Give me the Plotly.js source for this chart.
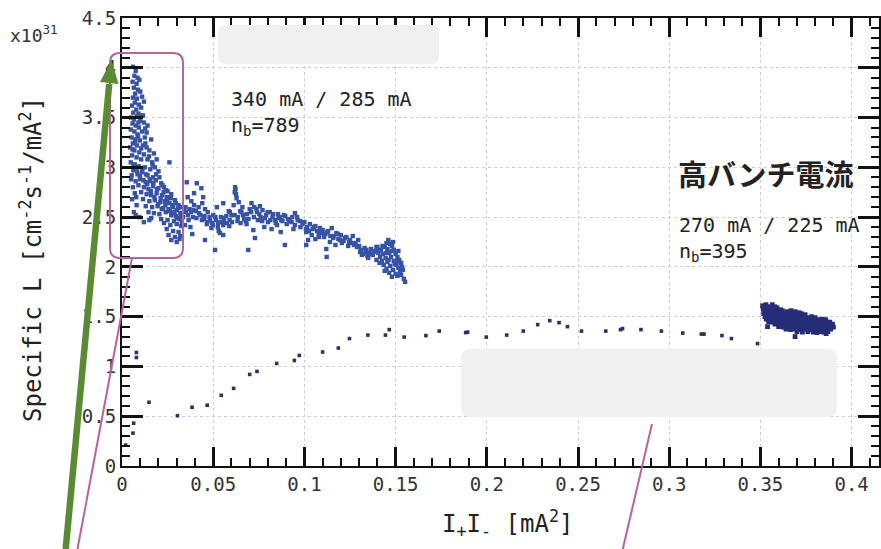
<!DOCTYPE html>
<html>
<head>
<meta charset="utf-8">
<script src="https://cdn.plot.ly/plotly-3.0.1.min.js"></script>
<style>html,body{margin:0;padding:0;background:#fff;}#chart{width:881px;height:549px;}</style>
</head>
<body>
<div id="chart"></div>
<script>
// ---------------- DATA ----------------
// High-current cluster (340 mA / 285 mA, nb=789)
const highX = [
 0.0060,0.0075,0.0068,0.0085,0.0058,0.0080,0.0095,0.0065,0.0088,0.0072,0.0100,0.0060,0.0082,0.0110,0.0070,0.0092,0.0055,0.0078,0.0105,0.0120,0.0062,0.0090,0.0115,
 0.0050,0.0065,0.0080,0.0100,0.0120,0.0058,0.0075,0.0092,0.0140,0.0135,0.0048,0.0068,0.0085,0.0110,0.0125,0.0052,0.0072,0.0098,0.0160,0.0060,0.0082,0.0115,0.0135,0.0150,0.0045,0.0068,0.0095,0.0120,0.0175,0.0055,0.0080,0.0105,0.0140,0.0165,0.0190,0.0048,0.0070,0.0092,0.0125,0.0155,0.0260,0.0180,0.0062,0.0110,0.0200,0.0085,0.0140,0.0170,
 0.0050,0.0075,0.0100,0.0130,0.0155,0.0185,0.0215,0.0060,0.0090,0.0120,0.0145,0.0170,0.0200,0.0230,0.0250,0.0070,0.0105,0.0135,0.0160,0.0190,0.0220,0.0245,0.0270,0.0055,0.0115,0.0150,0.0180,0.0210,0.0235,0.0260,0.0290,0.0310,0.0080,0.0130,0.0165,0.0195,0.0225,0.0255,0.0280,0.0300,0.0330,0.0065,0.0145,0.0175,0.0205,0.0240,0.0270,0.0295,0.0320,0.0340,0.0095,0.0160,0.0215,0.0250,0.0285,0.0315,0.0335,
 0.0230,0.0265,0.0300,0.0325,0.0245,0.0280,0.0310,0.0255,0.0290,0.0320,0.0270,0.0300,0.0315,0.0120,0.0150,0.0075,
 0.0355,0.0410,0.0435,0.0360,0.0380,0.0395,0.0370,0.0350,0.0405,0.0420,0.0440,0.0455,0.0470,0.0430,0.0390,0.0365,0.0450,0.0480,0.0500,0.0515,0.0495,0.0465,0.0525,0.0540,0.0555,0.0560,0.0575,0.0590,0.0530,0.0455,0.0510,0.0375,0.0345,0.0600,0.0585,0.0520,0.0395,0.0445,
 0.0620,0.0622,0.0618,0.0625,0.0628,0.0612,0.0640,0.0660,0.0655,0.0635,0.0670,0.0685,0.0700,0.0710,0.0725,0.0740,0.0756,0.0770,0.0760,0.0745,0.0790,0.0810,0.0825,0.0800,0.0840,0.0855,0.0866,0.0880,0.0895,0.0910,0.0930,0.0948,0.0960,0.0975,0.0990,0.0683,0.0720,0.0729,0.0692,0.0537,0.0490,0.0555,0.0591,0.0555,0.0780,0.0820,0.0893,0.0870,0.0940,0.1010,0.0650,0.0850,
 0.1000,0.1015,0.1030,0.1045,0.1060,0.1070,0.1085,0.1095,0.1010,0.1040,0.1080,0.1100,0.1115,0.1130,0.1150,0.1160,0.1175,0.1186,0.1200,0.1215,0.1230,0.1250,0.1265,0.1280,0.1295,0.1122,0.1120,0.1140,0.1060,0.1020,0.1170,0.1240,0.1205,
 0.1310,0.1320,0.1335,0.1345,0.1355,0.1365,0.1375,0.1385,0.1395,0.1330,0.1300,0.1350,
 0.1460,0.1450,0.1470,0.1440,0.1480,0.1420,0.1455,0.1490,0.1405,0.1430,0.1465,0.1500,0.1415,0.1445,0.1475,0.1510,0.1425,0.1455,0.1490,0.1520,0.1435,0.1470,0.1505,0.1530,0.1450,0.1485,0.1515,0.1535,0.1465,0.1500,0.1525,0.1540,0.1480,0.1510,0.1530,0.1552,0.1545,0.1400,0.1395,0.1485,0.1515,0.1440,
 0.0058,0.0072,0.0088,0.0105,0.0128,0.0148,0.0168,0.0187,0.0205,0.0222,0.0240,0.0258,0.0276,0.0295,0.0063,0.0083,0.0098,0.0118,0.0138,0.0158,0.0178,0.0198,0.0218,0.0238,0.0262,0.0282,0.0302,0.0322,0.0053,0.0078,0.0112,0.0132,0.0152,0.0172,0.0192,0.0212,0.0228,0.0248,0.0268,0.0288,0.0308,0.0328,0.0090,0.0107,0.0127,
 0.0348,0.0362,0.0378,0.0392,0.0408,0.0422,0.0438,0.0452,0.0468,0.0483,0.0498,0.0512,0.0527,0.0543,0.0558,0.0572,0.0588,0.0603,0.0618,0.0633,0.0648,0.0663,0.0678,0.0693,0.0708,0.0723,0.0738,0.0753,0.0768,0.0783,0.0798,0.0813,0.0828,0.0843,0.0858,0.0873,0.0888,0.0903,0.0918,0.0933,0.0948,0.0963,0.0978,0.0993,0.0385,
 0.1008,0.1025,0.1052,0.1078,0.1092,0.1108,0.1125,0.1142,0.1158,0.1182,0.1195,0.1222,0.1245,0.1258,0.1272,0.1288,0.1305,0.1315,0.1340,0.1360,0.1380,0.1402,0.1412,0.1428,0.1448,0.1462,0.1478,0.1495,0.1508,0.1525
];
const highY = [
 4.01,3.97,3.92,3.90,3.86,3.84,3.88,3.80,3.78,3.74,3.76,3.70,3.69,3.71,3.65,3.63,3.62,3.58,3.60,3.66,3.55,3.54,3.52,
 3.50,3.48,3.51,3.47,3.45,3.44,3.42,3.40,3.42,3.35,3.38,3.36,3.33,3.36,3.30,3.30,3.28,3.27,3.28,3.24,3.22,3.22,3.20,3.17,3.20,3.17,3.15,3.13,3.14,3.12,3.10,3.08,3.08,3.05,3.08,3.05,3.03,3.01,3.00,2.98,3.05,3.00,2.97,2.95,2.96,2.93,2.92,2.90,
 2.88,2.86,2.88,2.85,2.86,2.87,2.84,2.80,2.82,2.80,2.78,2.81,2.79,2.80,2.76,2.74,2.75,2.73,2.72,2.74,2.72,2.70,2.73,2.68,2.68,2.66,2.67,2.65,2.66,2.64,2.67,2.62,2.62,2.61,2.60,2.61,2.59,2.58,2.60,2.57,2.60,2.55,2.55,2.54,2.53,2.55,2.52,2.51,2.54,2.57,2.50,2.49,2.48,2.47,2.46,2.48,2.50,
 2.44,2.42,2.43,2.41,2.38,2.36,2.35,2.32,2.30,2.31,2.27,2.25,2.28,2.45,2.47,2.52,
 2.85,2.84,2.79,2.70,2.66,2.62,2.58,2.55,2.56,2.60,2.64,2.58,2.55,2.52,2.50,2.47,2.48,2.50,2.52,2.47,2.44,2.43,2.40,2.45,2.42,2.49,2.44,2.47,2.36,2.27,2.17,2.40,2.42,2.52,2.56,2.60,2.74,2.70,
 2.80,2.78,2.75,2.73,2.69,2.62,2.65,2.60,2.55,2.50,2.48,2.53,2.58,2.64,2.60,2.55,2.61,2.57,2.50,2.47,2.52,2.55,2.50,2.45,2.47,2.53,2.50,2.46,2.51,2.48,2.45,2.54,2.50,2.46,2.43,2.43,2.37,2.29,2.17,2.34,2.39,2.32,2.55,2.64,2.40,2.38,2.22,2.35,2.38,2.22,2.44,2.42,
 2.45,2.40,2.43,2.38,2.41,2.36,2.39,2.34,2.35,2.32,2.30,2.37,2.33,2.36,2.39,2.31,2.34,2.28,2.32,2.26,2.30,2.27,2.31,2.24,2.27,2.10,2.18,2.25,2.28,2.27,2.22,2.21,2.24,
 2.17,2.13,2.15,2.11,2.14,2.18,2.12,2.16,2.20,2.19,2.21,2.09,
 2.27,2.24,2.23,2.20,2.21,2.17,2.18,2.17,2.14,2.13,2.14,2.13,2.10,2.09,2.10,2.10,2.06,2.05,2.06,2.07,2.02,2.01,2.02,2.04,1.98,1.97,1.99,2.00,1.94,1.93,1.95,1.97,1.90,1.91,1.92,1.85,1.88,2.20,2.07,2.25,2.16,1.96,
 3.18,3.26,3.31,3.19,3.24,3.11,3.02,2.93,2.90,2.82,2.77,2.70,2.62,2.64,3.02,2.96,2.91,2.87,2.83,2.76,2.70,2.63,2.58,2.62,2.56,2.54,2.49,2.52,2.92,2.70,2.98,2.93,2.88,2.84,2.78,2.69,2.75,2.66,2.69,2.55,2.59,2.45,3.45,3.52,3.39,
 2.60,2.52,2.55,2.57,2.49,2.54,2.47,2.51,2.45,2.47,2.42,2.50,2.44,2.50,2.46,2.51,2.41,2.45,2.52,2.46,2.56,2.52,2.46,2.48,2.55,2.50,2.58,2.53,2.46,2.49,2.55,2.47,2.53,2.44,2.49,2.47,2.52,2.43,2.46,2.50,2.42,2.47,2.40,2.45,2.33,
 2.38,2.36,2.40,2.33,2.37,2.30,2.35,2.31,2.29,2.33,2.27,2.29,2.25,2.24,2.22,2.20,2.15,2.12,2.17,2.13,2.15,2.17,2.04,2.21,2.14,2.07,2.16,2.03,2.06,1.99
];
// Sparse ramp points
const rampX = [0.002,0.006,0.0064,0.0079,0.0079,0.0148,0.0304,0.0384,0.0467,0.0544,0.0612,0.070,0.074,0.0848,0.0945,0.0972,0.110,0.1186,0.1247,0.1348,0.1444,0.1465,0.1547,0.1666,0.1739,0.1884,0.1895,0.1997,0.2109,0.220,0.2279,0.2345,0.2396,0.2442,0.2519,0.2652,0.2733,0.2744,0.2845,0.2957,0.3074,0.3176,0.3191,0.3289,0.3341,0.3484];
const rampY = [0.21,0.33,0.43,1.14,1.09,0.64,0.505,0.59,0.61,0.71,0.78,0.92,0.95,1.03,1.06,1.11,1.145,1.185,1.28,1.315,1.315,1.37,1.295,1.31,1.355,1.34,1.345,1.295,1.315,1.355,1.42,1.46,1.44,1.40,1.355,1.355,1.37,1.38,1.37,1.355,1.335,1.325,1.325,1.31,1.28,1.23];
// 270 mA / 225 mA, nb=395 cluster
const lowX = [
 0.3512,0.3530,0.3548,0.3565,0.3578,
 0.3515,0.3535,0.3552,0.3570,0.3590,0.3610,
 0.3520,0.3540,0.3560,0.3580,0.3600,0.3620,0.3645,0.3668,0.3690,0.3712,
 0.3518,0.3538,0.3558,0.3578,0.3598,0.3618,0.3640,0.3660,0.3682,0.3705,0.3725,0.3745,
 0.3525,0.3545,0.3565,0.3585,0.3605,0.3625,0.3648,0.3670,0.3692,0.3715,0.3738,0.3760,0.3780,0.3800,
 0.3532,0.3552,0.3572,0.3592,0.3612,0.3635,0.3658,0.3680,0.3702,0.3725,0.3748,0.3770,0.3792,0.3815,0.3838,0.3858,
 0.3545,0.3565,0.3588,0.3610,0.3632,0.3655,0.3678,0.3700,0.3722,0.3745,0.3768,0.3790,0.3812,0.3835,0.3858,0.3880,
 0.3580,0.3602,0.3625,0.3648,0.3670,0.3692,0.3715,0.3738,0.3760,0.3782,0.3805,0.3828,0.3850,0.3872,0.3895,
 0.3600,0.3625,0.3650,0.3675,0.3700,0.3722,0.3745,0.3768,0.3790,0.3812,0.3835,0.3858,0.3880,0.3900,
 0.3640,0.3665,0.3690,0.3715,0.3740,0.3765,0.3790,0.3815,0.3840,0.3862,0.3885,
 0.3700,0.3730,0.3760,0.3790,0.3820,0.3845,0.3870,
 0.3539,0.3690,0.3810,0.3860
];
const lowY = [
 1.61,1.62,1.60,1.62,1.60,
 1.58,1.59,1.57,1.58,1.59,1.57,
 1.55,1.56,1.55,1.56,1.55,1.56,1.55,1.56,1.55,1.54,
 1.53,1.52,1.53,1.52,1.53,1.52,1.53,1.52,1.53,1.52,1.53,1.52,
 1.50,1.49,1.50,1.49,1.50,1.49,1.50,1.49,1.50,1.49,1.50,1.49,1.50,1.49,
 1.475,1.47,1.475,1.47,1.475,1.47,1.475,1.47,1.475,1.47,1.475,1.47,1.475,1.47,1.475,1.47,
 1.45,1.445,1.45,1.445,1.45,1.445,1.45,1.445,1.45,1.445,1.45,1.445,1.45,1.445,1.45,1.445,
 1.425,1.42,1.425,1.42,1.425,1.42,1.425,1.42,1.425,1.42,1.425,1.42,1.425,1.42,1.425,
 1.40,1.395,1.40,1.395,1.40,1.395,1.40,1.395,1.40,1.395,1.40,1.395,1.40,1.395,
 1.375,1.37,1.375,1.37,1.375,1.37,1.375,1.37,1.375,1.37,1.375,
 1.35,1.345,1.35,1.345,1.35,1.345,1.35,
 1.40,1.30,1.34,1.33
];
const xTickVals = [0,0.05,0.1,0.15,0.2,0.25,0.3,0.35,0.4];
const xTickText = ["0","0.05","0.1","0.15","0.2","0.25","0.3","0.35","0.4"];
const yTickVals = [0,0.5,1,1.5,2,2.5,3,3.5,4,4.5];
const yTickText = ["0","0.5","1","1.5","2","2.5","3","3.5","4","4.5"];

// ---------------- LAYOUT HELPERS (pixel -> paper) ----------------
const Lp=122, Tp=18, Rp=879, Bp=466;
const PX = x => (x-Lp)/(Rp-Lp);
const PY = y => (Bp-y)/(Bp-Tp);
function roundRect(x0,y0,x1,y1,r){
  const p=(x,y)=>PX(x).toFixed(5)+','+PY(y).toFixed(5);
  return 'M'+p(x0+r,y0)+' L'+p(x1-r,y0)+' Q'+p(x1,y0)+' '+p(x1,y0+r)+
         ' L'+p(x1,y1-r)+' Q'+p(x1,y1)+' '+p(x1-r,y1)+
         ' L'+p(x0+r,y1)+' Q'+p(x0,y1)+' '+p(x0,y1-r)+
         ' L'+p(x0,y0+r)+' Q'+p(x0,y0)+' '+p(x0+r,y0)+' Z';
}
function poly(pts){
  return 'M'+pts.map(q=>PX(q[0]).toFixed(5)+','+PY(q[1]).toFixed(5)).join(' L')+' Z';
}
function seg(x0,y0,x1,y1,color,w){
  return {type:'line',xref:'paper',yref:'paper',x0:PX(x0),y0:PY(y0),x1:PX(x1),y1:PY(y1),
          line:{color:color,width:w},layer:'above'};
}

const mono = 'DejaVu Sans Mono, monospace';
const pink = '#b5649f';
const green = '#5a8a32';

const traces = [
  {x:highX,y:highY,type:'scatter',mode:'markers',name:'340 mA / 285 mA',
   marker:{symbol:'square',size:4.4,color:'#3753a5',line:{width:0}},hoverinfo:'x+y'},
  {x:rampX,y:rampY,type:'scatter',mode:'markers',name:'ramp',
   marker:{symbol:'square',size:3.6,color:'#2e2f6a',line:{width:0}},hoverinfo:'x+y'},
  {x:lowX,y:lowY,type:'scatter',mode:'markers',name:'270 mA / 225 mA',
   marker:{symbol:'square',size:4.8,color:'#262d78',line:{width:0}},hoverinfo:'x+y'}
];

const axisCommon = {
  showline:true, linecolor:'#111111', linewidth:2, mirror:'allticks',
  ticks:'inside', tickwidth:3, tickcolor:'#111111',
  showgrid:true, gridcolor:'#cfcfcf', griddash:'dot', gridwidth:1,
  zeroline:false, tickfont:{family:mono,size:19,color:'#333'}
};

const layout = {
  width:881, height:549,
  margin:{l:Lp, r:881-Rp, t:Tp, b:549-Bp, pad:0},
  paper_bgcolor:'#ffffff', plot_bgcolor:'#ffffff',
  showlegend:false,
  xaxis:Object.assign({}, axisCommon, {
    range:[0,0.415], tickmode:'array', tickvals:xTickVals, ticktext:xTickText, ticklen:19,
    minor:{ticks:'inside', dtick:0.01, ticklen:8, tickwidth:2, tickcolor:'#111111', showgrid:false}
  }),
  yaxis:Object.assign({}, axisCommon, {
    range:[0,4.5], tickmode:'array', tickvals:yTickVals, ticktext:yTickText, ticklen:21,
    minor:{ticks:'inside', dtick:0.1, ticklen:8, tickwidth:2, tickcolor:'#111111', showgrid:false}
  }),
  annotations:[
    // axis titles
    {xref:'paper',yref:'paper',x:PX(507),y:PY(523),xanchor:'center',yanchor:'middle',showarrow:false,
     text:'I<sub>+</sub>I<sub>-</sub> [mA<sup>2</sup>]',font:{family:mono,size:24,color:'#222'}},
    {xref:'paper',yref:'paper',x:PX(31),y:PY(260),xanchor:'center',yanchor:'middle',showarrow:false,textangle:-90,
     text:'Specific L [cm<sup>-2</sup>s<sup>-1</sup>/mA<sup>2</sup>]',font:{family:mono,size:24,color:'#222'}},
    // exponent
    {xref:'paper',yref:'paper',x:PX(8),y:PY(34),xanchor:'left',yanchor:'middle',showarrow:false,
     text:'x10<sup>31</sup>',font:{family:mono,size:18,color:'#333'}},
    {xref:'paper',yref:'paper',x:PX(229),y:PY(85),xanchor:'left',yanchor:'top',align:'left',showarrow:false,
     text:'340 mA / 285 mA<br>n<sub>b</sub>=789',font:{family:mono,size:20,color:'#222'}},
    {xref:'paper',yref:'paper',x:PX(765),y:PY(173),xanchor:'center',yanchor:'middle',showarrow:false,
     text:'高バンチ電流',font:{family:'Noto Sans CJK JP, sans-serif',size:29,color:'#222',weight:'bold'}},
    {xref:'paper',yref:'paper',x:PX(677),y:PY(211),xanchor:'left',yanchor:'top',align:'left',showarrow:false,
     text:'270 mA / 225 mA<br>n<sub>b</sub>=395',font:{family:mono,size:20,color:'#222'}}
  ],
  shapes:[
    {type:'path',xref:'paper',yref:'paper',path:roundRect(218,25,439,64,8),fillcolor:'#f0f0f0',line:{width:0},layer:'above'},
    {type:'path',xref:'paper',yref:'paper',path:roundRect(461,349,837,417,10),fillcolor:'#f0f0f0',line:{width:0},layer:'above'},
    {type:'path',xref:'paper',yref:'paper',path:roundRect(110,53,183,258,10),fillcolor:'rgba(0,0,0,0)',line:{color:pink,width:2},layer:'above'},
    seg(132,258,77.5,549,pink,2),
    seg(652,424,622.8,549,pink,2),
    seg(65.7,549,109.2,84,green,6.5),
    {type:'path',xref:'paper',yref:'paper',path:poly([[111.5,60],[118.5,84],[100,82]]),fillcolor:green,line:{width:0},layer:'above'}
  ]
};

Plotly.newPlot('chart', traces, layout, {staticPlot:true, displayModeBar:false});
</script>
</body>
</html>
